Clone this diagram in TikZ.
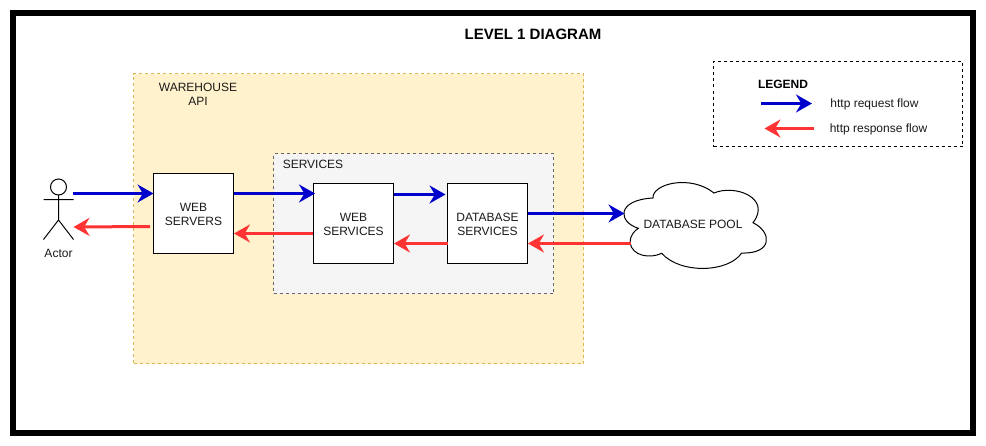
\documentclass[tikz,border=0pt]{standalone}
\usepackage{fontspec}
\setmainfont{Liberation Sans}
\usetikzlibrary{arrows.meta}
\definecolor{reqblue}{HTML}{0000CC}
\definecolor{resred}{HTML}{FF3333}
\definecolor{wyellow}{HTML}{FFF2CC}
\definecolor{wborder}{HTML}{D6B656}
\definecolor{sgrey}{HTML}{F5F5F5}
\definecolor{sborder}{HTML}{666666}
\definecolor{txt}{HTML}{1A1A1A}
\tikzset{
  x=0.75pt,y=-0.75pt,
  lbl/.style={inner sep=0pt,align=center,text=txt,font=\fontsize{9}{10.5}\selectfont},
  srvbox/.style={lbl,draw=black,line width=0.75pt,fill=white,minimum width=60pt,minimum height=60pt,text height=17.7pt,text depth=0pt},
  zone/.style={draw,line width=0.75pt,dash pattern=on 2.25pt off 2.25pt,inner sep=0pt},
  req/.style={draw=reqblue,line width=2.25pt,-{Stealth[length=12pt,width=13.5pt,inset=4pt]}},
  res/.style={draw=resred,line width=2.25pt,-{Stealth[length=12pt,width=13.5pt,inset=4pt]}},
  stick/.style={draw=black,line width=0.75pt},
}
\begin{document}
\begin{tikzpicture}
\useasboundingbox (0,0) rectangle (986,446);
\fill[white] (0,0) rectangle (986,446);
\node[draw=black,line width=4.5pt,fill=white,minimum width=720pt,minimum height=315pt,inner sep=0pt] (frame) at (493.2,223) {};
\node[lbl,font=\bfseries\fontsize{11.25}{13}\selectfont,text=black] (title) at (533,34) {LEVEL 1 DIAGRAM};
% zones
\node[zone,draw=wborder,fill=wyellow,minimum width=337.5pt,minimum height=217.5pt] (warehouse) at (358.5,218.5) {};
\node[lbl] (warehouselbl) at (198,94.5) {WAREHOUSE\\API};
\node[zone,draw=sborder,fill=sgrey,minimum width=210pt,minimum height=105pt] (services) at (413.5,223.5) {};
\node[lbl] (serviceslbl) at (313,164) {SERVICES};
% servers
\node[srvbox] (ws) at (193.5,213.5) {WEB\\SERVERS};
\node[srvbox] (wsvc) at (353.5,223.5) {WEB\\SERVICES};
\node[srvbox] (db) at (487.5,223.5) {DATABASE\\SERVICES};
% cloud
\filldraw[draw=black,fill=white,line width=0.75pt]
  (638.3,228.3) .. controls (618,222) and (616,200) .. (653,198)
  .. controls (652,184) and (690,174) .. (714,193)
  .. controls (735,184) and (772,198) .. (753,222.7)
  .. controls (772,232) and (773,254) .. (741.7,253)
  .. controls (728,273) and (680,274) .. (661.7,253.3)
  .. controls (650,259) and (632,256) .. (630,242.7)
  .. controls (630,236) and (634,231) .. (638.3,228.3) -- cycle;
\node[lbl] (pool) at (693,224) {DATABASE POOL};
% actor
\draw[stick,fill=white] (58.5,187) circle (8);
\coordinate (neck) at (58.5,195);
\coordinate (hip) at (58.5,220);
\coordinate (armL) at (43.5,199.5);
\coordinate (armR) at (73.5,199.5);
\coordinate (legL) at (43.5,239.5);
\coordinate (legR) at (73.5,239.5);
\draw[stick] (neck) -- (hip) (armL) -- (armR) (legL) -- (hip) -- (legR);
\node[lbl] (actor) at (58.5,253) {Actor};
% connector ends
\coordinate (a1s) at (73,193.5);
\coordinate (a1e) at (153.5,193.5);
\coordinate (a2s) at (233.5,193.5);
\coordinate (a2e) at (315,193.5);
\coordinate (a3s) at (393.5,194.5);
\coordinate (a3e) at (445.5,194.5);
\coordinate (a4s) at (527.5,213.5);
\coordinate (a4e) at (624.5,213.5);
\coordinate (b1s) at (150,226.5);
\coordinate (b1e) at (73.5,227);
\coordinate (b2s) at (313,233.5);
\coordinate (b2e) at (234,233.5);
\coordinate (b3s) at (447.5,243.5);
\coordinate (b3e) at (394,243.5);
\coordinate (b4s) at (631,243.5);
\coordinate (b4e) at (528,243.5);
\draw[req] (a1s) -- (a1e);
\draw[req] (a2s) -- (a2e);
\draw[req] (a3s) -- (a3e);
\draw[req] (a4s) -- (a4e);
\draw[res] (b1s) -- (b1e);
\draw[res] (b2s) -- (b2e);
\draw[res] (b3s) -- (b3e);
\draw[res] (b4s) -- (b4e);
% legend
\node[zone,draw=black,fill=white,minimum width=186.75pt,minimum height=63.75pt] (legend) at (838,104) {};
\node[lbl,font=\bfseries\fontsize{9}{10.5}\selectfont,text=black] (legendlbl) at (783,84) {LEGEND};
\coordinate (l1s) at (761,103.5);
\coordinate (l1e) at (812,103.5);
\coordinate (l2s) at (814,128.5);
\coordinate (l2e) at (764.5,128.5);
\draw[req] (l1s) -- (l1e);
\draw[res] (l2s) -- (l2e);
\node[lbl] (reqlbl) at (874.5,104) {http request flow};
\node[lbl] (reslbl) at (878.5,129) {http response flow};
\end{tikzpicture}
\end{document}
